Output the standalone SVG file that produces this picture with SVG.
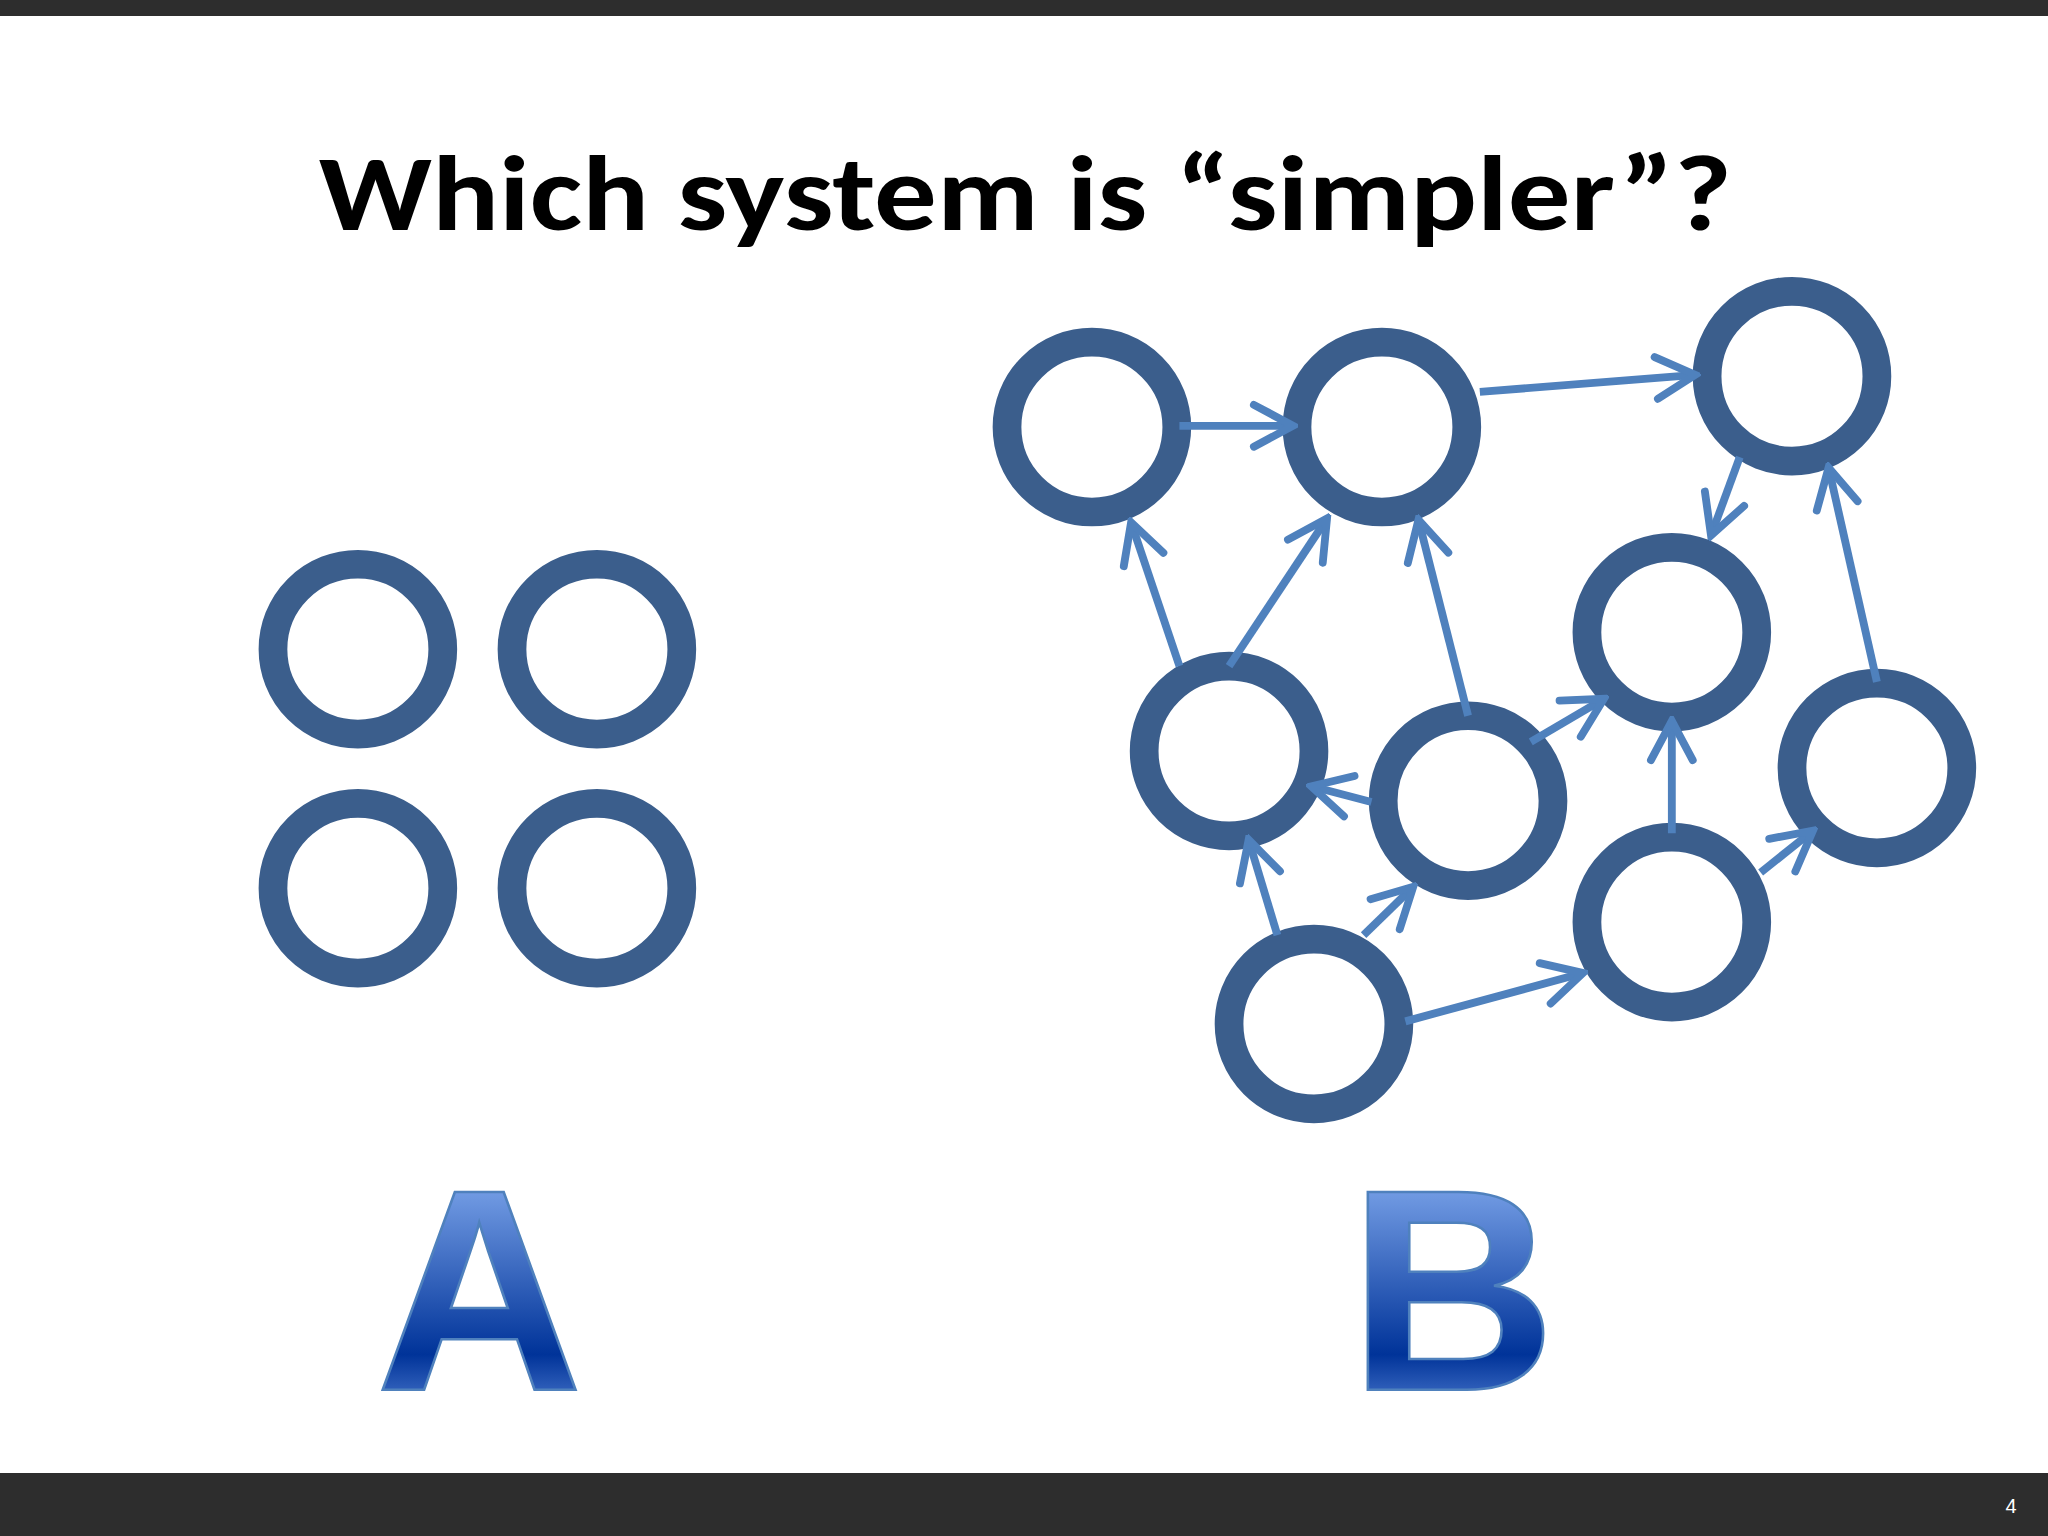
<svg xmlns="http://www.w3.org/2000/svg" width="2048" height="1536" viewBox="0 0 2048 1536">
<style>
.n{fill:none;stroke:#3b5e8c;stroke-width:22}
.c line{stroke:#4f81bd;stroke-width:6;marker-end:url(#ah)}
.big{font-family:"Liberation Sans",Arial,sans-serif;font-weight:bold;font-size:220px;fill:url(#g);stroke:#4f81bd;stroke-width:2}
</style>
<defs>
<marker id="ah" markerUnits="userSpaceOnUse" markerWidth="40" markerHeight="40" refX="36" refY="20" orient="auto" viewBox="0 0 40 40">
<path d="M6 4 L36 20 L6 36" fill="none" stroke="#4f81bd" stroke-width="6" stroke-linecap="round"/>
</marker>
<linearGradient id="g" x1="0" y1="0" x2="0" y2="1">
<stop offset="0" stop-color="#9cc2ff"/><stop offset="0.7" stop-color="#003399"/><stop offset="1" stop-color="#7fa8f0"/>
</linearGradient>
</defs>
<rect width="2048" height="1536" fill="#fff"/>
<rect width="2048" height="16" fill="#2d2d2d"/>
<rect y="1473" width="2048" height="63" fill="#2d2d2d"/>
<text x="2011" y="1513" font-family="Liberation Sans,sans-serif" font-size="20" fill="#fff" text-anchor="middle">4</text>
<g transform="scale(1.30612)">
<text x="785" y="176" text-anchor="middle" font-family="Carlito,'Liberation Sans',sans-serif" font-weight="bold" font-size="82" textLength="1082" lengthAdjust="spacingAndGlyphs">Which system is “simpler”?</text>
<g id="a1"><circle class="n" cx="274" cy="497" r="65"/></g>
<g id="a2"><circle class="n" cx="457" cy="497" r="65"/></g>
<g id="a3"><circle class="n" cx="274" cy="680" r="65"/></g>
<g id="a4"><circle class="n" cx="457" cy="680" r="65"/></g>
<g id="b1"><circle class="n" cx="836" cy="327" r="65"/></g>
<g id="b2"><circle class="n" cx="1058" cy="327" r="65"/></g>
<g id="b3"><circle class="n" cx="1372" cy="288" r="65"/></g>
<g id="b4"><circle class="n" cx="941" cy="575" r="65"/></g>
<g id="b5"><circle class="n" cx="1124" cy="613" r="65"/></g>
<g id="b6"><circle class="n" cx="1280" cy="484" r="65"/></g>
<g id="b7"><circle class="n" cx="1437" cy="588" r="65"/></g>
<g id="b8"><circle class="n" cx="1280" cy="706" r="65"/></g>
<g id="b9"><circle class="n" cx="1006" cy="784" r="65"/></g>
<g class="c">
<line x1="903" y1="326" x2="990" y2="326"/>
<line x1="1133" y1="300" x2="1298" y2="287"/>
<line x1="903" y1="510" x2="866" y2="400"/>
<line x1="941" y1="510" x2="1016" y2="397"/>
<line x1="1124" y1="548" x2="1086" y2="398"/>
<line x1="1332" y1="350" x2="1310" y2="410"/>
<line x1="1437" y1="522" x2="1400" y2="358"/>
<line x1="1172" y1="568" x2="1228" y2="535"/>
<line x1="1280" y1="638" x2="1280" y2="552"/>
<line x1="1348" y1="668" x2="1388" y2="636"/>
<line x1="1050" y1="614" x2="1004" y2="602"/>
<line x1="978" y1="716" x2="956" y2="643"/>
<line x1="1044" y1="716" x2="1082" y2="679"/>
<line x1="1076" y1="782" x2="1212" y2="745"/>
</g>
<text class="big" x="367" y="1064" text-anchor="middle">A</text>
<text class="big" x="1112" y="1064" text-anchor="middle">B</text>
</g>
</svg>
